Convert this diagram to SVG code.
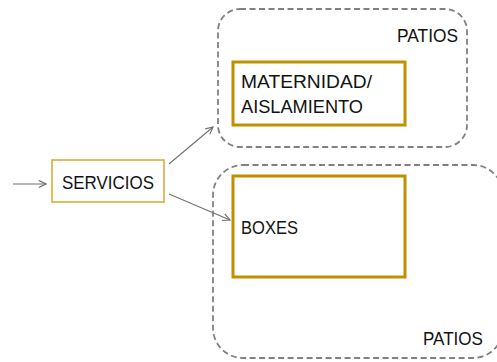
<svg xmlns="http://www.w3.org/2000/svg" width="497" height="362" viewBox="0 0 497 362">
<style>
.group{fill:none;stroke:#808080;stroke-width:1.8;stroke-dasharray:6 3.5}
.node{fill:#fff;stroke:#BF9000;stroke-width:3}
.svc{fill:#fff;stroke:#D6A82E;stroke-width:1.5}
.lbl{font-family:"Liberation Sans",Arial,sans-serif;font-size:19px;fill:#111}
.conn{fill:none;stroke:#707070;stroke-width:1.1;marker-end:url(#arr)}
</style>
<defs>
<marker id="arr" viewBox="0 0 10 10" refX="9" refY="5" markerWidth="9" markerHeight="9" markerUnits="userSpaceOnUse" orient="auto">
<path d="M1,1 L9,5 L1,9" fill="none" stroke="#707070" stroke-width="1.3"/>
</marker>
</defs>
<rect width="497" height="362" fill="#fff"/>
<g id="patios-top">
<rect class="group" x="218" y="9" width="249" height="138" rx="22"/>
<text class="lbl" x="397" y="42" textLength="61" lengthAdjust="spacingAndGlyphs">PATIOS</text>
</g>
<g id="patios-bottom">
<rect class="group" x="213" y="165" width="290" height="193" rx="30"/>
<text class="lbl" x="423" y="345" textLength="60" lengthAdjust="spacingAndGlyphs">PATIOS</text>
</g>
<g id="maternidad">
<rect class="node" x="233" y="62" width="172" height="63"/>
<text class="lbl" x="241" y="88" textLength="131" lengthAdjust="spacingAndGlyphs">MATERNIDAD/</text>
<text class="lbl" x="241" y="113" textLength="122" lengthAdjust="spacingAndGlyphs">AISLAMIENTO</text>
</g>
<g id="boxes">
<rect class="node" x="233" y="176" width="172" height="101"/>
<text class="lbl" x="241" y="234" textLength="57" lengthAdjust="spacingAndGlyphs">BOXES</text>
</g>
<g id="servicios">
<rect class="svc" x="52" y="160" width="112" height="42"/>
<text class="lbl" x="62" y="189" textLength="92" lengthAdjust="spacingAndGlyphs">SERVICIOS</text>
</g>
<g id="connectors">
<line class="conn" x1="13" y1="184" x2="46" y2="184"/>
<line class="conn" x1="169" y1="164" x2="213" y2="127"/>
<line class="conn" x1="169" y1="194" x2="230" y2="220"/>
</g>
</svg>
